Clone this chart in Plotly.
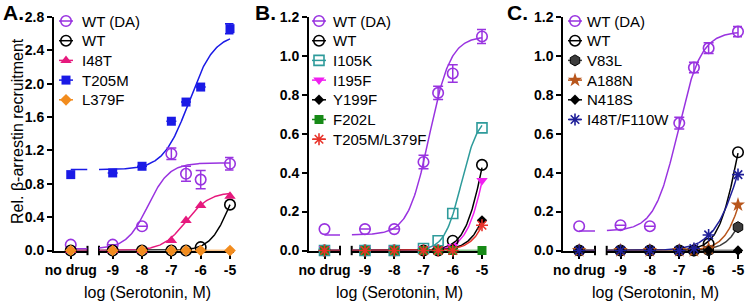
import numpy as np
import plotly.graph_objects as go

# ======================= DATA =======================
DOSE = [-9, -8, -7, -6.5, -6, -5]            # log [serotonin, M]
DOSE_TICKS = [-9, -8, -7, -6, -5]
DOSE_TICK_TEXT = ["-9", "-8", "-7", "-6", "-5"]
NO_DRUG_LABEL = "no drug"
X_TITLE = "log (Serotonin, M)"
Y_TITLE = "Rel. β-arrestin recruitment"
PANEL_LABELS = ["A.", "B.", "C."]

# ---- Panel A ----
A_NAMES = ["WT (DA)", "WT", "I48T", "T205M", "L379F"]
A_NO_DRUG = [0.07, 0.00, 0.00, 0.91, 0.00]
A_WT_DA = [0.07, 0.29, 1.16, 0.92, 0.85, 1.04]
A_WT = [0.00, 0.00, 0.00, 0.00, 0.04, 0.55]
A_I48T = [0.00, 0.00, 0.12, 0.36, 0.54, 0.65]
A_T205M = [0.93, 1.01, 1.55, 1.78, 1.96, 2.66]
A_L379F = [0.00, 0.00, 0.00, 0.00, 0.00, 0.00]
A_WT_DA_ERR = [0.0, 0.0, 0.07, 0.09, 0.11, 0.075]
A_T205M_ERR = [0.0, 0.0, 0.0, 0.0, 0.0, 0.06]
# fitted curve parameters (bottom, top, logEC50, Hill slope)
A_FIT_BOTTOM = [0.02, 0.00, 0.00, 0.97, 0.00]
A_FIT_TOP = [1.05, 1.10, 0.70, 2.60, 0.00]
A_FIT_LOGEC50 = [-7.8, -5.0, -6.5, -6.4, -6.0]
A_FIT_HILL = [1.2, 1.3, 1.1, 1.0, 1.0]

# ---- Panel B ----
B_NAMES = ["WT (DA)", "WT", "I105K", "I195F", "Y199F", "F202L", "T205M/L379F"]
B_NO_DRUG = [0.11, 0.00, 0.00, 0.01, 0.00, 0.00, 0.00]
B_WT_DA = [0.11, 0.11, 0.455, 0.81, 0.91, 1.10]
B_WT = [0.00, 0.00, 0.00, 0.00, 0.05, 0.44]
B_I105K = [0.00, 0.00, 0.01, 0.05, 0.19, 0.63]
B_I195F = [0.01, 0.01, 0.01, 0.01, 0.02, 0.36]
B_Y199F = [0.00, 0.00, 0.00, 0.00, 0.01, 0.155]
B_F202L = [0.00, 0.00, 0.00, 0.00, 0.00, 0.00]
B_T205M_L379F = [0.00, 0.00, 0.00, 0.00, 0.00, 0.13]
B_WT_DA_ERR = [0.0, 0.0, 0.035, 0.034, 0.045, 0.036]
B_FIT_BOTTOM = [0.08, 0.0, 0.0, 0.0, 0.0, 0.0, 0.0]
B_FIT_TOP = [1.10, 1.0, 0.70, 1.0, 1.0, 0.0, 1.0]
B_FIT_LOGEC50 = [-6.8, -4.9, -5.7, -4.8, -4.4, -6.0, -4.3]
B_FIT_HILL = [1.2, 1.3, 1.5, 1.3, 1.2, 1.0, 1.2]

# ---- Panel C ----
C_NAMES = ["WT (DA)", "WT", "V83L", "A188N", "N418S", "I48T/F110W"]
C_NO_DRUG = [0.125, 0.00, 0.00, 0.00, 0.00, 0.00]
C_WT_DA = [0.13, 0.125, 0.655, 0.94, 1.04, 1.125]
C_WT = [0.00, 0.00, 0.00, 0.00, 0.035, 0.505]
C_V83L = [0.00, 0.00, 0.00, 0.00, 0.00, 0.12]
C_A188N = [0.00, 0.00, 0.00, 0.00, 0.01, 0.235]
C_N418S = [0.00, 0.00, 0.00, 0.00, 0.00, 0.00]
C_I48T_F110W = [0.00, 0.00, 0.00, 0.01, 0.08, 0.39]
C_WT_DA_ERR = [0.0, 0.0, 0.03, 0.027, 0.028, 0.026]
C_FIT_BOTTOM = [0.10, 0.0, 0.0, 0.0, 0.0, 0.0]
C_FIT_TOP = [1.125, 1.0, 1.0, 1.0, 0.0, 1.0]
C_FIT_LOGEC50 = [-7.05, -5.0, -4.3, -4.55, -6.0, -4.8]
C_FIT_HILL = [1.1, 1.3, 1.2, 1.2, 1.0, 0.9]

# ======================= STYLE =======================
FONT = "Arial, Liberation Sans, Helvetica, sans-serif"
PURPLE = "#9933E0"
BLACK = "#000000"

A_STYLE = [
    dict(color=PURPLE, symbol="circle-open", size=10.5),
    dict(color=BLACK, symbol="circle-open", size=10.5),
    dict(color="#E6197D", symbol="triangle-up", size=10),
    dict(color="#1A1AE6", symbol="square", size=9),
    dict(color="#F28C1E", symbol="diamond", size=9, curve_from=-7),
]
B_STYLE = [
    dict(color=PURPLE, symbol="circle-open", size=10.5),
    dict(color=BLACK, symbol="circle-open", size=10.5),
    dict(color="#2E9B9B", symbol="square-open", size=10),
    dict(color="#F01EF0", symbol="triangle-down", size=10),
    dict(color=BLACK, symbol="diamond", size=8),
    dict(color="#178A17", symbol="square", size=9, curve_from=-7),
    dict(color="#E8332A", symbol="asterisk-open", size=10),
]
C_STYLE = [
    dict(color=PURPLE, symbol="circle-open", size=10.5),
    dict(color=BLACK, symbol="circle-open", size=10.5),
    dict(color="#3C3C3C", symbol="hexagon", size=11),
    dict(color="#B8561C", symbol="star", size=11),
    dict(color=BLACK, symbol="diamond", size=8, curve_from=-7),
    dict(color="#1F1F99", symbol="asterisk-open", size=10),
]

PANELS = [
    dict(names=A_NAMES, no_drug=A_NO_DRUG,
         values=[A_WT_DA, A_WT, A_I48T, A_T205M, A_L379F],
         errors=[A_WT_DA_ERR, None, None, A_T205M_ERR, None],
         fits=list(zip(A_FIT_BOTTOM, A_FIT_TOP, A_FIT_LOGEC50, A_FIT_HILL)),
         styles=A_STYLE, yrange=[0, 2.8], ydtick=0.4),
    dict(names=B_NAMES, no_drug=B_NO_DRUG,
         values=[B_WT_DA, B_WT, B_I105K, B_I195F, B_Y199F, B_F202L, B_T205M_L379F],
         errors=[B_WT_DA_ERR] + [None] * 6,
         fits=list(zip(B_FIT_BOTTOM, B_FIT_TOP, B_FIT_LOGEC50, B_FIT_HILL)),
         styles=B_STYLE, yrange=[0, 1.2], ydtick=0.2),
    dict(names=C_NAMES, no_drug=C_NO_DRUG,
         values=[C_WT_DA, C_WT, C_V83L, C_A188N, C_N418S, C_I48T_F110W],
         errors=[C_WT_DA_ERR] + [None] * 5,
         fits=list(zip(C_FIT_BOTTOM, C_FIT_TOP, C_FIT_LOGEC50, C_FIT_HILL)),
         styles=C_STYLE, yrange=[0, 1.2], ydtick=0.2),
]

# ======================= LAYOUT GEOMETRY (pixels) =======================
W, H = 745, 303
Y_TOP, Y_BOT = 17, 250.5
GEOM = [
    dict(left=54, brk1=87.5, brk2=99, xm9=112.7, xm5=230, right=233.5, title_x=147,
         label_x=1, leg_mx=66, leg_tx=80),
    dict(left=309, brk1=340, brk2=351.7, xm9=365, xm5=482, right=486, title_x=399,
         label_x=253, leg_mx=319, leg_tx=331),
    dict(left=563.3, brk1=595, brk2=606.7, xm9=620.5, xm5=738, right=742, title_x=655,
         label_x=505, leg_mx=575, leg_tx=585),
]
LEG_Y0, LEG_DY, LEG_HALF = 21, 19.7, 7
ND_POS = 0.5


def ax_name(n):
    return "x" if n == 1 else f"x{n}"


def yax_name(n):
    return "y" if n == 1 else f"y{n}"


def hill(x, b, t, ec, h):
    x = np.asarray(x, dtype=float)
    return b + (t - b) / (1.0 + 10.0 ** ((ec - x) * h))


def marker_style(st):
    open_sym = st["symbol"].endswith("open")
    return dict(symbol=st["symbol"], color=st["color"], size=st["size"],
                line=dict(color=st["color"] if open_sym else "black",
                          width=1.6 if open_sym else (1 if st["symbol"] == "hexagon" else 0)))


fig = go.Figure()
layout = dict(
    width=W, height=H, margin=dict(l=0, r=0, t=0, b=0, autoexpand=False),
    paper_bgcolor="white", plot_bgcolor="rgba(0,0,0,0)",
    font=dict(family=FONT, color="black"),
    showlegend=False,
)
annotations = []
shapes = []

ydom = [1 - Y_BOT / H, 1 - Y_TOP / H]
tickfont = dict(family=FONT, size=14, color="black", weight="bold")
axis_common = dict(showline=True, linewidth=2, linecolor="black", ticks="outside",
                   ticklen=5, tickwidth=2, tickcolor="black", showgrid=False,
                   zeroline=False, fixedrange=True, layer="below traces", tickfont=tickfont,
                   automargin=False)

# overlay axes (pixel space) used only for legend keys
LEG_X, LEG_Y = "x7", "y4"
layout["xaxis7"] = dict(domain=[0, 1], range=[0, W], visible=False, fixedrange=True,
                        anchor=LEG_Y, automargin=False)
layout["yaxis4"] = dict(domain=[0, 1], range=[H, 0], visible=False, fixedrange=True,
                        anchor=LEG_X, automargin=False)

legend_traces = []

for i, (panel, g) in enumerate(zip(PANELS, GEOM)):
    nd_n, dose_n, y_n = 2 * i + 1, 2 * i + 2, i + 1
    nd_ax, dose_ax, yax = ax_name(nd_n), ax_name(dose_n), yax_name(y_n)
    pxdec = (g["xm5"] - g["xm9"]) / 4.0
    dose_lo = -9 + (g["brk2"] - g["xm9"]) / pxdec
    dose_hi = -5 + (g["right"] - g["xm5"]) / pxdec

    layout["xaxis" if nd_n == 1 else f"xaxis{nd_n}"] = dict(
        axis_common, domain=[g["left"] / W, g["brk1"] / W], range=[0, 1],
        tickvals=[ND_POS], ticktext=[NO_DRUG_LABEL], anchor=yax, ticklen=6)
    layout[f"xaxis{dose_n}"] = dict(
        axis_common, domain=[g["brk2"] / W, g["right"] / W], range=[dose_lo, dose_hi],
        tickvals=DOSE_TICKS, ticktext=DOSE_TICK_TEXT, anchor=yax, ticklen=6)
    y0, y1 = panel["yrange"]
    nt = int(round((y1 - y0) / panel["ydtick"]))
    layout["yaxis" if y_n == 1 else f"yaxis{y_n}"] = dict(
        axis_common, domain=ydom, range=panel["yrange"], anchor=nd_ax,
        tickvals=[round(y0 + k * panel["ydtick"], 2) for k in range(nt + 1)],
        tickformat=".1f")

    # axis-break ticks
    for xr, xv in ((f"{nd_ax} domain", 1), (f"{dose_ax} domain", 0)):
        shapes.append(dict(type="line", xref=xr, yref=f"{yax} domain", x0=xv, x1=xv,
                           y0=-0.02, y1=0.02, line=dict(color="black", width=2),
                           layer="below"))

    # fitted curves
    for name, fit, st in zip(panel["names"], panel["fits"], panel["styles"]):
        start = st.get("curve_from", dose_lo)
        xs = np.linspace(start, -5, 200)
        fig.add_trace(go.Scatter(x=xs, y=hill(xs, *fit), xaxis=dose_ax,
                                 yaxis=yax, mode="lines", hoverinfo="skip", showlegend=False,
                                 line=dict(color=st["color"], width=1.5), cliponaxis=False))
        if "curve_from" not in st:
            fig.add_trace(go.Scatter(x=[ND_POS, 1.0], y=[fit[0], fit[0]], xaxis=nd_ax,
                                     yaxis=yax, mode="lines", hoverinfo="skip",
                                     showlegend=False, cliponaxis=False,
                                     line=dict(color=st["color"], width=1.5)))

    # data points
    for name, nd, vals, err, st in zip(panel["names"], panel["no_drug"], panel["values"],
                                       panel["errors"], panel["styles"]):
        mk = marker_style(st)
        ey = None
        if err is not None:
            ey = dict(type="data", array=err, visible=True, color=st["color"],
                      thickness=1.5, width=5)
        fig.add_trace(go.Scatter(x=DOSE, y=vals, xaxis=dose_ax, yaxis=yax, mode="markers",
                                 marker=mk, error_y=ey, showlegend=False, cliponaxis=False,
                                 name=name))
        fig.add_trace(go.Scatter(x=[ND_POS], y=[nd], xaxis=nd_ax, yaxis=yax, mode="markers",
                                 marker=mk, showlegend=False, cliponaxis=False, name=name))

    # legend (key line + marker + text)
    for k, (name, st) in enumerate(zip(panel["names"], panel["styles"])):
        ly = LEG_Y0 + k * LEG_DY
        legend_traces.append(go.Scatter(
            x=[g["leg_mx"] - LEG_HALF, g["leg_mx"] + LEG_HALF], y=[ly, ly],
            xaxis=LEG_X, yaxis=LEG_Y, mode="lines", hoverinfo="skip", showlegend=False,
            line=dict(color=st["color"], width=1.5)))
        legend_traces.append(go.Scatter(
            x=[g["leg_mx"]], y=[ly], xaxis=LEG_X, yaxis=LEG_Y, mode="markers",
            hoverinfo="skip", showlegend=False, marker=marker_style(st)))
        annotations.append(dict(text=name, xref="paper", yref="paper", x=g["leg_tx"] / W,
                                y=1 - ly / H, xanchor="left", yanchor="middle",
                                showarrow=False, font=dict(family=FONT, size=15, color="black")))

    # panel label and x title
    annotations.append(dict(text=f"<b>{PANEL_LABELS[i]}</b>", xref="paper", yref="paper",
                            x=g["label_x"] / W, y=1 - 12 / H, xanchor="left",
                            yanchor="middle", showarrow=False,
                            font=dict(family=FONT, size=21, color="black")))
    annotations.append(dict(text=X_TITLE, xref="paper", yref="paper", x=g["title_x"] / W,
                            y=1 - 292 / H, xanchor="center", yanchor="middle", showarrow=False,
                            font=dict(family=FONT, size=16, color="black")))

for tr in legend_traces:
    fig.add_trace(tr)

annotations.append(dict(text=Y_TITLE, xref="paper", yref="paper", x=17 / W,
                        y=1 - 131 / H, xanchor="center", yanchor="middle", textangle=-90,
                        showarrow=False, font=dict(family=FONT, size=16, color="black")))

layout["annotations"] = annotations
layout["shapes"] = shapes
fig.update_layout(**layout)
fig.write_html("out.html",
               config={"displayModeBar": False, "staticPlot": True},
               post_script="document.body.style.margin='0px';"
                           "document.body.style.padding='0px';"
                           "document.body.style.overflow='hidden';")
